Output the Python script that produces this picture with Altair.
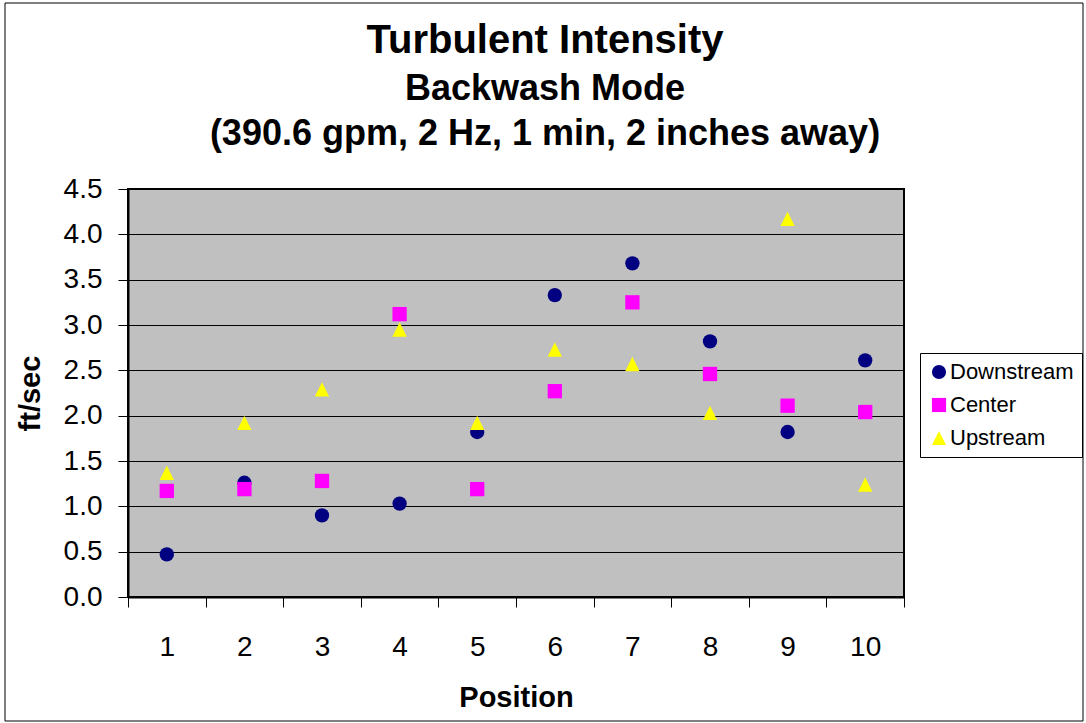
import altair as alt
import pandas as pd

positions = [1, 2, 3, 4, 5, 6, 7, 8, 9, 10]
downstream = [0.47, 1.26, 0.90, 1.03, 1.82, 3.33, 3.68, 2.82, 1.82, 2.61]
center = [1.17, 1.19, 1.28, 3.12, 1.19, 2.27, 3.25, 2.46, 2.11, 2.04]
upstream = [1.37, 1.92, 2.29, 2.95, 1.92, 2.73, 2.57, 2.03, 4.17, 1.24]
series_names = ["Downstream", "Center", "Upstream"]
series_colors = ["#000080", "#FF00FF", "#FFFF00"]
series_shapes = ["circle", "square", "M0,-1L1,1L-1,1Z"]
y_ticks = [0.0, 0.5, 1.0, 1.5, 2.0, 2.5, 3.0, 3.5, 4.0, 4.5]

rows = []
for i, (name, vals) in enumerate(zip(series_names, [downstream, center, upstream])):
    for p, v in zip(positions, vals):
        rows.append({"Position": p, "value": v, "series": name, "order": i})
df = pd.DataFrame(rows)

FONT = "Liberation Sans"

points = alt.Chart(df).mark_point(filled=True, size=205, opacity=1, strokeWidth=0).encode(
    x=alt.X(
        "Position:O",
        scale=alt.Scale(type="band", paddingInner=0, paddingOuter=0),
        axis=alt.Axis(
            title="Position", labelAngle=0, tickBand="extent", grid=False,
            labelFontSize=28, labelPadding=26, labelColor="black",
            titleFontSize=29, titleFontWeight="bold", titlePadding=22, titleColor="black",
            tickSize=10, tickColor="black", tickWidth=1,
            domainColor="black", domainWidth=2,
        ),
    ),
    y=alt.Y(
        "value:Q",
        scale=alt.Scale(domain=[0, 4.5], nice=False, zero=True),
        axis=alt.Axis(
            title="ft/sec", values=y_ticks, format=".1f",
            labelFontSize=28, labelPadding=16, labelColor="black",
            titleFontSize=29, titleFontWeight="bold", titlePadding=18, titleColor="black",
            tickSize=10, tickColor="black", tickWidth=1,
            domainColor="black", domainWidth=2,
            grid=True, gridColor="black", gridWidth=1,
        ),
    ),
    color=alt.Color(
        "series:N",
        scale=alt.Scale(domain=series_names, range=series_colors),
        sort=series_names,
        legend=alt.Legend(
            title=None, orient="none", legendX=792, legendY=164,
            fillColor="white", strokeColor="black", padding=8,
            labelFontSize=22, labelColor="black", labelOffset=0,
            rowPadding=11, symbolSize=200, symbolStrokeWidth=0,
        ),
    ),
    shape=alt.Shape(
        "series:N",
        scale=alt.Scale(domain=series_names, range=series_shapes),
        sort=series_names,
    ),
    order=alt.Order("order:Q"),
)

frame = alt.Chart(pd.DataFrame({"k": [0]})).mark_rect(
    filled=False, fill=None, stroke="black", strokeWidth=1, clip=False
).encode(
    x=alt.value(-123), x2=alt.value(955), y=alt.value(-186), y2=alt.value(532)
)

chart = alt.layer(points, frame).properties(
    width=776,
    height=408,
    background="white",
    padding={"left": 128, "top": 189, "right": 182, "bottom": 126},
    autosize=alt.AutoSizeParams(type="none"),
    title=alt.TitleParams(
        text="Turbulent Intensity",
        subtitle=["Backwash Mode", "(390.6 gpm, 2 Hz, 1 min, 2 inches away)"],
        fontSize=40, font=FONT, fontWeight="bold", color="black",
        subtitleFontSize=36, subtitleFont=FONT, subtitleFontWeight="bold",
        subtitleColor="black", subtitleLineHeight=45, subtitlePadding=11,
        anchor="middle", frame="group", dx=29, offset=-149,
    ),
).configure(
    font=FONT,
).configure_view(
    fill="#C0C0C0", stroke="black", strokeWidth=2,
).configure_axis(
    labelFont=FONT, titleFont=FONT,
).configure_legend(
    labelFont=FONT,
)

chart.save("out.html", embed_options={"renderer": "svg", "actions": False})
